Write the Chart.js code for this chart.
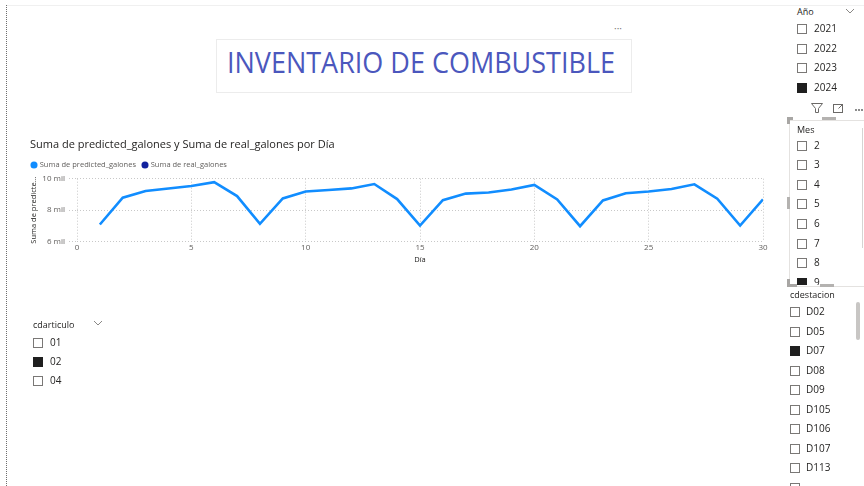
<!DOCTYPE html>
<html><head><meta charset="utf-8">
<script src="https://cdn.jsdelivr.net/npm/chart.js@4/dist/chart.umd.min.js"></script>
<style>
html,body{margin:0;padding:0;width:864px;height:486px;overflow:hidden;background:#fff;font-family:'Segoe UI','Open Sans',sans-serif;}
.a{position:absolute;}
.cb{position:absolute;width:8px;height:8px;border:1px solid #7a7876;background:#fff;}
.cb.on{background:#1f1f1f;border-color:#1f1f1f;}
.lbl{position:absolute;font-size:10px;color:#252423;line-height:12px;white-space:nowrap;}
.hdr{position:absolute;font-size:9px;color:#252423;line-height:11px;white-space:nowrap;}
</style></head>
<body>
<!-- page frame -->
<div class="a" style="left:7px;top:5px;width:857px;height:0;border-top:1px solid #f0f0f0;"></div>
<div class="a" style="left:6px;top:5px;width:0;height:481px;border-left:1px dotted #6e6e6e;"></div>

<!-- title textbox -->
<div class="a" style="left:216px;top:39px;width:414px;height:52px;border:1px solid #ececec;"></div>
<div class="a" id="bigTitle" style="left:227px;top:47px;font-size:30px;line-height:30px;color:#4B57BD;white-space:nowrap;transform-origin:0 0;">INVENTARIO DE COMBUSTIBLE</div>
<div class="a" style="left:614px;top:21px;font-size:10px;color:#777;">···</div>

<!-- chart -->
<canvas id="c" class="a" style="left:30px;top:135px;" width="748" height="129"></canvas>

<div id="sl"></div>

<!-- Mes frame -->
<div class="a" style="left:789px;top:120px;width:80px;height:165px;border:1px solid #e4e2e0;border-right:none;"></div>
<div class="a" style="left:787px;top:117px;width:6px;height:3px;background:#a8a6a4;"></div>
<div class="a" style="left:787px;top:117px;width:3px;height:7px;background:#a8a6a4;"></div>
<div class="a" style="left:822px;top:117px;width:14px;height:3px;background:#b4b2b0;"></div>
<div class="a" style="left:787px;top:197px;width:3px;height:12px;background:#b4b2b0;"></div>
<div class="a" style="left:787px;top:284px;width:10px;height:3px;background:#a8a6a4;"></div>
<div class="a" style="left:787px;top:279px;width:3px;height:8px;background:#a8a6a4;"></div>
<div class="a" style="left:820px;top:284px;width:14px;height:3px;background:#b4b2b0;"></div>
<div class="a" style="left:862px;top:128px;width:1px;height:120px;background:#d6d4d2;"></div>
<!-- cdestacion scrollbar -->
<div class="a" style="left:856px;top:302px;width:4px;height:38px;background:#c8c6c4;border-radius:2px;"></div>

<!-- icons row -->
<svg class="a" style="left:805px;top:100px;" width="59" height="16">
  <path d="M6.5 3.5 L17.5 3.5 L13.5 8.5 L13.5 12.5 L10.5 12.5 L10.5 8.5 Z" fill="none" stroke="#6b6967" stroke-width="1"/>
  <rect x="28.5" y="4.5" width="9" height="8" fill="none" stroke="#6b6967" stroke-width="1"/>
  <path d="M33 4.5 L37.5 4.5 L37.5 8.5 M37.5 4.5 L33.5 8.5" fill="none" stroke="#6b6967" stroke-width="1"/>
  <circle cx="51" cy="10" r="0.9" fill="#555"/><circle cx="54" cy="10" r="0.9" fill="#555"/><circle cx="57" cy="10" r="0.9" fill="#555"/>
</svg>
<svg class="a" style="left:845px;top:7px;" width="10" height="8"><path d="M1 2 L5 6 L9 2" fill="none" stroke="#8a8886" stroke-width="1"/></svg>
<svg class="a" style="left:93px;top:319px;" width="10" height="8"><path d="M1 2 L5 6 L9 2" fill="none" stroke="#8a8886" stroke-width="1"/></svg>

<script>
// ---------- data ----------
const days = [1,2,3,4,5,6,7,8,9,10,11,12,13,14,15,16,17,18,19,20,21,22,23,24,25,26,27,28,29,30];
const predictedGalones = [7080,8790,9220,9380,9530,9780,8890,7120,8740,9180,9280,9380,9660,8700,7010,8630,9050,9120,9310,9600,8680,6970,8610,9070,9180,9340,9640,8720,7010,8680];
const realGalones = [null,null,null,null,null,null,null,null,null,null,null,null,null,null,null,null,null,null,null,null,null,null,null,null,null,null,null,null,null,null];
const yTicks = [6000,8000,10000];
const xTicks = [0,5,10,15,20,25,30];
const seriesNames = ['Suma de predicted_galones','Suma de real_galones'];
const chartTitle = 'Suma de predicted_galones y Suma de real_galones por Día';

const years = ['2021','2022','2023','2024'];
const yearSel = ['2024'];
const months = ['2','3','4','5','6','7','8','9'];
const monthSel = ['9'];
const stations = ['D02','D05','D07','D08','D09','D105','D106','D107','D113',''];
const stationSel = ['D07'];
const articles = ['01','02','04'];
const articleSel = ['02'];

// ---------- slicers ----------
const sl = document.getElementById('sl');
function header(text, x, y){
  const d = document.createElement('div'); d.className='hdr'; d.textContent=text;
  d.style.left=x+'px'; d.style.top=(y-6)+'px'; sl.appendChild(d);
}
function items(list, sel, cbx, lx, y0, step, clipTop, clipBottom){
  list.forEach((t,i)=>{
    const cy = y0 + i*step;
    const wrap = document.createElement('div');
    wrap.className='a';
    wrap.style.left='0px'; wrap.style.top=clipTop+'px'; wrap.style.width='864px';
    wrap.style.height=(clipBottom-clipTop)+'px'; wrap.style.overflow='hidden';
    const cb = document.createElement('div'); cb.className='cb'+(sel.includes(t)?' on':'');
    cb.style.left=cbx+'px'; cb.style.top=(cy-5-clipTop)+'px'; wrap.appendChild(cb);
    const l = document.createElement('div'); l.className='lbl'; l.textContent=t;
    l.style.left=lx+'px'; l.style.top=(cy-7-clipTop)+'px'; wrap.appendChild(l);
    sl.appendChild(wrap);
  });
}
header('Año',797,12);
items(years,yearSel,797,814,29,19.6,0,486);
header('Mes',797,130);
items(months,monthSel,797,814,145.5,19.6,121,285);
header('cdestacion',790,295);
items(stations,stationSel,790,806,312,19.5,0,486);
header('cdarticulo',33,325);
items(articles,articleSel,33,50,342.5,19.4,0,486);

// ---------- fit big title ----------
(function(){
  const el = document.getElementById('bigTitle');
  const w = el.getBoundingClientRect().width;
  el.style.transform = 'scaleX(' + (388/w) + ')';
})();

// ---------- chart ----------
const FONT = "'Segoe UI','Open Sans',sans-serif";
const gridColor = '#c8c8c8';
const legendShift = {
  id:'legendShift',
  afterLayout(chart){ if(chart.legend){ chart.legend.left -= 5; } }
};
new Chart(document.getElementById('c'), {
  type:'line',
  data:{
    datasets:[
      {label:seriesNames[0], data:days.map((d,i)=>({x:d,y:predictedGalones[i]})), borderColor:'#118DFF', backgroundColor:'#118DFF', borderWidth:2.6, pointRadius:0, tension:0},
      {label:seriesNames[1], data:days.map((d,i)=>({x:d,y:realGalones[i]})), borderColor:'#12239E', backgroundColor:'#12239E', borderWidth:2.6, pointRadius:0, tension:0}
    ]
  },
  plugins:[legendShift],
  options:{
    responsive:false, animation:false,
    layout:{padding:{left:0,right:15,top:0,bottom:0}},
    plugins:{
      title:{display:true,text:chartTitle,align:'start',color:'#252423',font:{family:FONT,size:11,weight:'normal'},padding:{top:3,bottom:3}},
      legend:{display:true,align:'start',
        labels:{usePointStyle:true,pointStyle:'circle',boxWidth:4,boxHeight:5,color:'#605E5C',font:{family:FONT,size:7.5},padding:7,
          generateLabels(chart){
            const arr = Chart.defaults.plugins.legend.labels.generateLabels(chart);
            arr.forEach(a=>{a.lineWidth=0;});
            return arr;
          }}},
      tooltip:{enabled:false}
    },
    scales:{
      x:{type:'linear',min:0,max:30,
        afterBuildTicks(s){s.ticks = xTicks.map(v=>({value:v}));},
        ticks:{color:'#605E5C',font:{family:FONT,size:8},padding:2,maxRotation:0},
        grid:{color:gridColor,drawTicks:false,tickBorderDash:[1,2]},
        border:{display:false,dash:[1,2]},
        title:{display:true,text:'Día',color:'#252423',font:{family:FONT,size:7.5},padding:{top:0,bottom:0}}
      },
      y:{min:6000,max:10000,
        afterBuildTicks(s){s.ticks = yTicks.map(v=>({value:v}));},
        ticks:{color:'#605E5C',font:{family:FONT,size:8},padding:4,callback:v=>(v/1000)+' mil'},
        grid:{color:gridColor,tickLength:8,tickBorderDash:[1,2]},
        border:{display:false,dash:[1,2]},
        title:{display:true,text:'Suma de predicte...',color:'#252423',font:{family:FONT,size:7.5},padding:{top:-1,bottom:0}},
        afterFit(s){s.width=47;}
      }
    }
  }
});
</script>
</body></html>
